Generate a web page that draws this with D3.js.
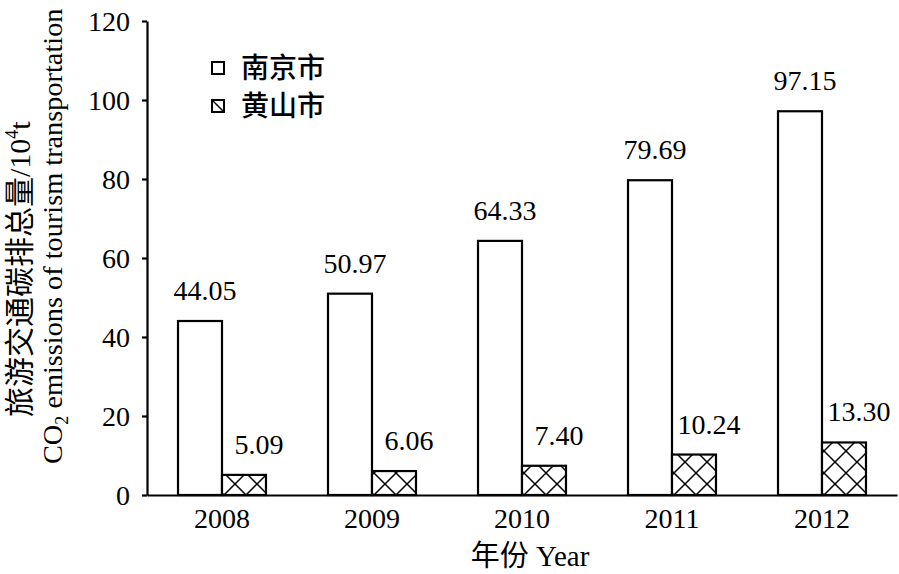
<!DOCTYPE html>
<html><head><meta charset="utf-8">
<script src="https://cdn.jsdelivr.net/npm/d3@7"></script>
<style>
html,body{margin:0;padding:0;background:#fff;}
svg{display:block;}
</style>
</head><body>
<svg id="c" width="899" height="574"></svg>
<script>
const years = ["2008","2009","2010","2011","2012"];
const seriesNames = ["南京市","黄山市"];
const nanjing = [44.05, 50.97, 64.33, 79.69, 97.15];
const huangshan = [5.09, 6.06, 7.40, 10.24, 13.30];
const yTicks = [0,20,40,60,80,100,120];

const serif = "'Liberation Serif','Times New Roman',serif";
const cjk = "'Noto Sans CJK SC','Noto Sans CJK JP',sans-serif";

const svg = d3.select("#c");
const plotL = 147, plotR = 897, plotT = 21, plotB = 495;

const defs = svg.append("defs");
const pat = defs.append("pattern").attr("id","hatch").attr("patternUnits","userSpaceOnUse")
  .attr("width",22).attr("height",22).attr("x",0).attr("y",0);
pat.append("rect").attr("width",22).attr("height",22).attr("fill","#fff");
pat.append("path").attr("d","M0,0L22,22M0,22L22,0M-2,2L2,-2M20,24L24,20M-2,20L2,24M20,-2L24,2")
  .attr("stroke","#000").attr("stroke-width",1.5).attr("fill","none");

const x = d3.scaleBand().domain(years).range([plotL,plotR]).paddingInner(0).paddingOuter(0);
const xs = d3.scaleBand().domain(seriesNames).range([0,x.bandwidth()]).paddingInner(0).paddingOuter(0.705);
const y = d3.scaleLinear().domain([0,120]).range([plotB,plotT]);

const data = years.map((yr,i)=>({year:yr, vals:[{s:seriesNames[0],v:nanjing[i]},{s:seriesNames[1],v:huangshan[i]}]}));

const g = svg.append("g");
const groups = g.selectAll("g.grp").data(data).join("g").attr("class","grp")
  .attr("transform",d=>`translate(${x(d.year)},0)`);
groups.selectAll("rect").data(d=>d.vals).join("rect")
  .attr("x",d=>xs(d.s)).attr("width",xs.bandwidth())
  .attr("y",d=>y(d.v)).attr("height",d=>y(0)-y(d.v))
  .attr("fill",(d,i)=>i===0?"#fff":"url(#hatch)")
  .attr("stroke","#000").attr("stroke-width",2.2);
groups.selectAll("text.val").data(d=>d.vals).join("text").attr("class","val")
  .attr("x",(d,i)=>xs(d.s)+xs.bandwidth()/2+(i===0?5:15))
  .attr("y",d=>y(d.v)-21)
  .attr("text-anchor","middle")
  .attr("font-family",serif).attr("font-size",28).attr("fill","#000")
  .text(d=>d.v.toFixed(2));

// Y axis
const yAxis = d3.axisLeft(y).tickValues(yTicks).tickSize(5).tickSizeOuter(0).tickPadding(12);
const ya = svg.append("g").attr("transform",`translate(${plotL},0)`).call(yAxis);
ya.select(".domain").attr("stroke","#000").attr("stroke-width",2.2);
ya.selectAll(".tick line").attr("stroke","#000").attr("stroke-width",2.2);
ya.selectAll(".tick text").attr("font-family",serif).attr("font-size",28).attr("fill","#000").attr("dy","0.34em");

// X axis
const xAxis = d3.axisBottom(x).tickSize(0).tickSizeOuter(0).tickPadding(10);
const xa = svg.append("g").attr("transform",`translate(0,${plotB})`).call(xAxis);
xa.select(".domain").attr("stroke","#000").attr("stroke-width",2.2);
xa.selectAll(".tick text").attr("font-family",serif).attr("font-size",28).attr("fill","#000").attr("dy","0.82em");

// X title
const xt = svg.append("text").attr("x",530).attr("y",566).attr("text-anchor","middle").attr("fill","#000");
xt.append("tspan").attr("font-family",cjk).attr("font-size",29).text("年份");
xt.append("tspan").attr("font-family",serif).attr("font-size",29).text(" Year");

// Y title
const yt1 = svg.append("text").attr("transform","translate(30,417) rotate(-90)").attr("text-anchor","start").attr("fill","#000");
yt1.append("tspan").attr("font-family",cjk).attr("font-size",30).text("旅游交通碳排总量");
yt1.append("tspan").attr("font-family",serif).attr("font-size",30).text("/10");
yt1.append("tspan").attr("font-family",serif).attr("font-size",18).attr("dy",-12).text("4");
yt1.append("tspan").attr("font-family",serif).attr("font-size",30).attr("dy",12).text("t");

const yt2 = svg.append("text").attr("transform","translate(62,464) rotate(-90)").attr("text-anchor","start").attr("fill","#000")
  .attr("font-family",serif).attr("font-size",28.3);
yt2.append("tspan").text("CO");
yt2.append("tspan").attr("font-size",18).attr("dy",6).text("2");
yt2.append("tspan").attr("dy",-6).text(" emissions of tourism transportation");

// Legend
const leg = svg.append("g");
const legItems = leg.selectAll("g").data(seriesNames).join("g")
  .attr("transform",(d,i)=>`translate(212,${62+i*38})`);
legItems.append("rect").attr("width",12).attr("height",12)
  .attr("fill",(d,i)=>i===0?"#fff":"url(#hatch)").attr("stroke","#000").attr("stroke-width",2);
legItems.append("text").attr("x",29).attr("y",6).attr("dy","0.36em")
  .attr("font-family",cjk).attr("font-size",28).attr("font-weight",500).attr("fill","#000").text(d=>d);
</script>
</body></html>
